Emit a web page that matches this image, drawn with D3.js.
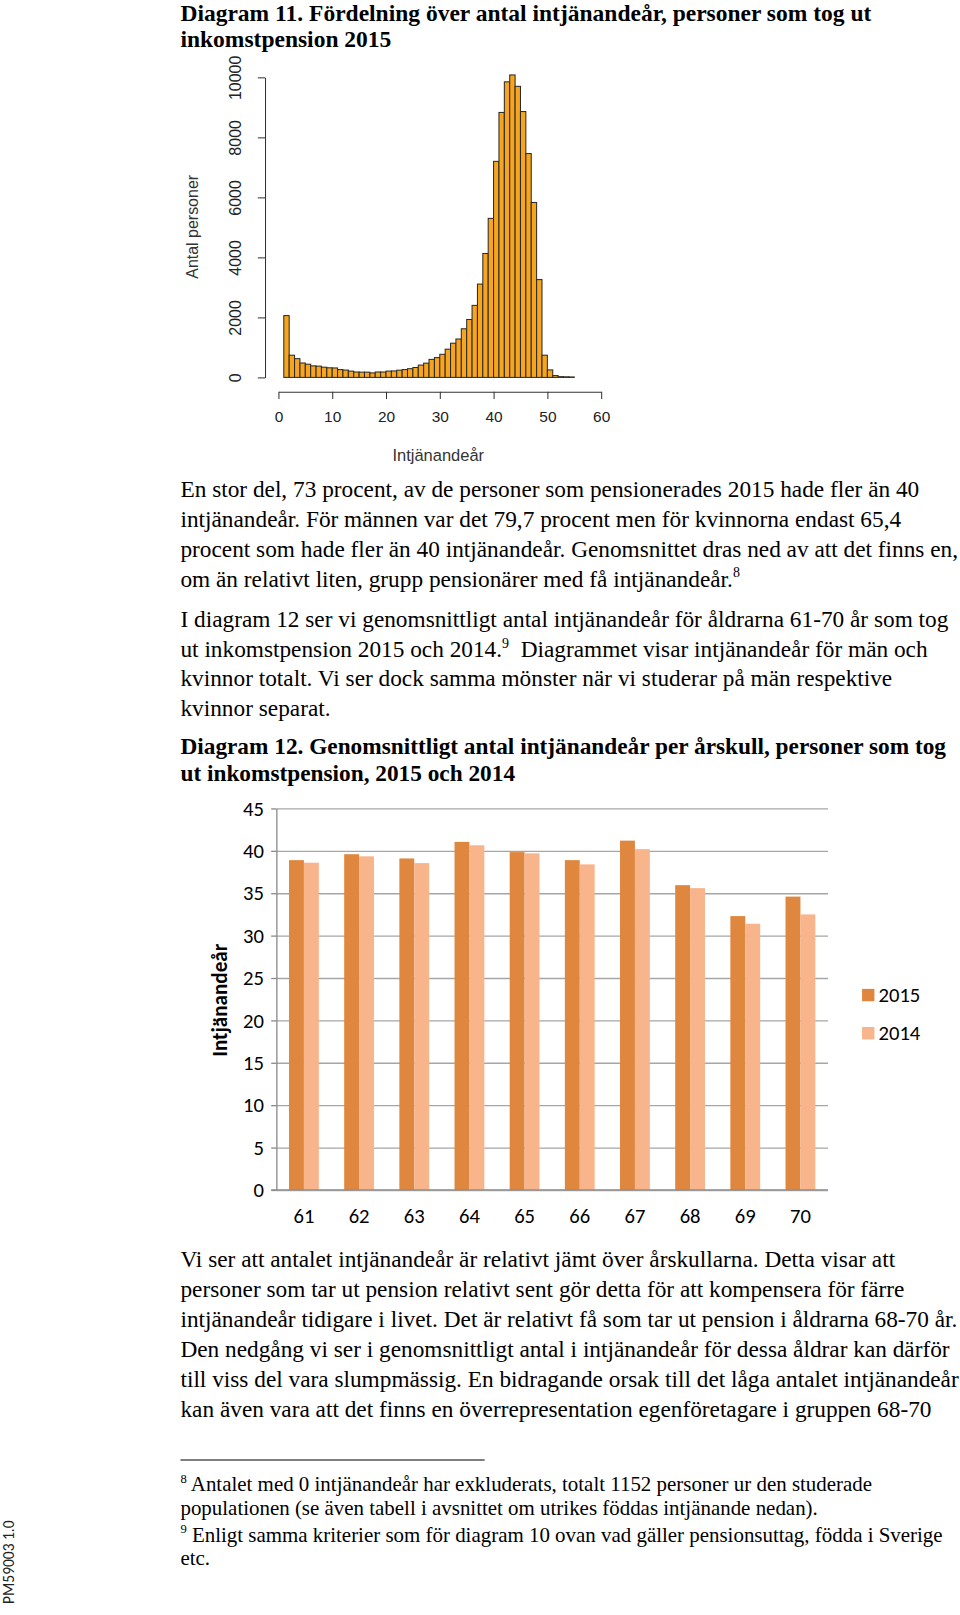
<!DOCTYPE html>
<html>
<head>
<meta charset="utf-8">
<script src="https://cdn.jsdelivr.net/npm/d3@7"></script>
<style>
  body { margin: 0; background: #fff; }
  svg { display: block; }
  .serif { font-family: "Liberation Serif", "Times New Roman", serif; fill: #000; }
  .rsans { font-family: "Liberation Sans", Arial, sans-serif; }
  .xl { font-family: Carlito, Lato, "Open Sans", sans-serif; }
</style>
</head>
<body>
<svg id="page" width="960" height="1615"></svg>
<script>
// ---- Diagram 11: histogram data (bin start, count) ----
const histBinStarts = [1, 2, 3, 4, 5, 6, 7, 8, 9, 10, 11, 12, 13, 14, 15, 16, 17, 18,
  19, 20, 21, 22, 23, 24, 25, 26, 27, 28, 29, 30, 31, 32, 33, 34, 35, 36, 37, 38, 39,
  40, 41, 42, 43, 44, 45, 46, 47, 48, 49, 50, 51, 52, 53, 54];
const histCounts = [2060, 740, 625, 480, 440, 385, 375, 340, 320, 315, 260, 245, 210,
  180, 175, 175, 150, 180, 180, 210, 215, 240, 260, 290, 330, 410, 475, 600, 660, 770,
  940, 1140, 1280, 1620, 1930, 2400, 3110, 4130, 5300, 7200, 8830, 9850, 10080, 9700,
  8860, 7460, 5830, 3260, 740, 250, 60, 25, 20, 15];
const histXTicks = [0, 10, 20, 30, 40, 50, 60];
const histYTicks = [0, 2000, 4000, 6000, 8000, 10000];

// ---- Diagram 12: grouped bars ----
const ages = ["61", "62", "63", "64", "65", "66", "67", "68", "69", "70"];
const series = ["2015", "2014"];
const values2015 = [38.9, 39.6, 39.1, 41.05, 39.85, 38.9, 41.2, 35.95, 32.3, 34.6];
const values2014 = [38.6, 39.35, 38.55, 40.65, 39.7, 38.4, 40.2, 35.6, 31.4, 32.5];
const barYTicks = [0, 5, 10, 15, 20, 25, 30, 35, 40, 45];

// ---- text ("|n|" = superscript) ----
const title11 = ["Diagram 11. Fördelning över antal intjänandeår, personer som tog ut",
  "inkomstpension 2015"];
const para1 = ["En stor del, 73 procent, av de personer som pensionerades 2015 hade fler än 40",
  "intjänandeår. För männen var det 79,7 procent men för kvinnorna endast 65,4",
  "procent som hade fler än 40 intjänandeår. Genomsnittet dras ned av att det finns en,",
  "om än relativt liten, grupp pensionärer med få intjänandeår.|8|"];
const para2 = ["I diagram 12 ser vi genomsnittligt antal intjänandeår för åldrarna 61-70 år som tog",
  "ut inkomstpension 2015 och 2014.|9|  Diagrammet visar intjänandeår för män och",
  "kvinnor totalt. Vi ser dock samma mönster när vi studerar på män respektive",
  "kvinnor separat."];
const title12 = ["Diagram 12. Genomsnittligt antal intjänandeår per årskull, personer som tog",
  "ut inkomstpension, 2015 och 2014"];
const para3 = ["Vi ser att antalet intjänandeår är relativt jämt över årskullarna. Detta visar att",
  "personer som tar ut pension relativt sent gör detta för att kompensera för färre",
  "intjänandeår tidigare i livet. Det är relativt få som tar ut pension i åldrarna 68-70 år.",
  "Den nedgång vi ser i genomsnittligt antal i intjänandeår för dessa åldrar kan därför",
  "till viss del vara slumpmässig. En bidragande orsak till det låga antalet intjänandeår",
  "kan även vara att det finns en överrepresentation egenföretagare i gruppen 68-70"];
const notes = ["|8| Antalet med 0 intjänandeår har exkluderats, totalt 1152 personer ur den studerade",
  "populationen (se även tabell i avsnittet om utrikes föddas intjänande nedan).",
  "|9| Enligt samma kriterier som för diagram 10 ovan vad gäller pensionsuttag, födda i Sverige",
  "etc."];

// layout was measured on a 931 px wide copy of the page
const svg = d3.select("#page");
const page = svg.append("g").attr("transform", "scale(" + (960 / 931) + ")");

function textBlock(lines, x, ys, size, bold) {
  const g = page.append("g").attr("class", "serif")
    .attr("font-size", size).attr("font-weight", bold ? "bold" : "normal");
  lines.forEach(function (line, i) {
    const t = g.append("text").attr("x", x).attr("y", ys[i])
      .attr("xml:space", "preserve");
    const shift = size * 0.4;
    let raised = false;
    line.split("|").forEach(function (part, k) {
      if (part === "") return;
      if (k % 2 === 1) {
        t.append("tspan").attr("font-size", size * 0.6).attr("dy", -shift).text(part);
        raised = true;
      } else {
        const s = t.append("tspan").text(part);
        if (raised) { s.attr("dy", shift); raised = false; }
      }
    });
  });
}

textBlock(title11, 175, [20, 46], 22.8, true);
textBlock(para1, 175, [482, 511, 540, 569], 22.6, false);
textBlock(para2, 175, [608, 637, 665, 694], 22.6, false);
textBlock(title12, 175, [731, 757], 22.6, true);
textBlock(para3, 175, [1229, 1258, 1287, 1316, 1345, 1374], 22.6, false);
textBlock(notes, 175, [1446, 1469, 1495, 1518], 20.3, false);

page.append("line").attr("x1", 175).attr("x2", 470).attr("y1", 1416).attr("y2", 1416)
  .attr("stroke", "#000").attr("stroke-width", 1);

page.append("text").attr("class", "xl").attr("font-size", 15).attr("fill", "#222")
  .attr("text-anchor", "middle")
  .attr("transform", "translate(14,1515) rotate(-90)")
  .text("PM59003 1.0");

// ---- histogram ----
const xh = d3.scaleLinear().domain([0, 60]).range([270, 583]);
const yh = d3.scaleLinear().domain([0, 10000]).range([366, 75]);

const hist = page.append("g");
hist.selectAll("rect")
  .data(histCounts)
  .enter()
  .append("rect")
  .attr("x", (d, i) => xh(histBinStarts[i]))
  .attr("y", (d) => yh(d))
  .attr("width", (d, i) => xh(histBinStarts[i] + 1) - xh(histBinStarts[i]))
  .attr("height", (d) => yh(0) - yh(d))
  .attr("fill", "#F7A51E")
  .attr("stroke", "#2a2a2a")
  .attr("stroke-width", 1);

const hx = hist.append("g")
  .attr("class", "rsans")
  .attr("transform", "translate(0,380)")
  .call(d3.axisBottom(xh).tickValues(histXTicks).tickSize(7).tickSizeOuter(0).tickPadding(12));
hx.selectAll("text").attr("font-size", 15).attr("fill", "#222");

const hy = hist.append("g")
  .attr("class", "rsans")
  .attr("transform", "translate(257,0)")
  .call(d3.axisLeft(yh).tickValues(histYTicks).tickSize(7).tickSizeOuter(0)
    .tickFormat(d3.format("d")));
hy.selectAll("text")
  .attr("font-size", 15.5).attr("fill", "#222")
  .attr("text-anchor", "middle")
  .attr("x", 0).attr("dy", 0).attr("y", -23)
  .attr("transform", "rotate(-90)");
hist.selectAll(".domain, .tick line").attr("stroke", "#333");

hist.append("text").attr("class", "rsans").attr("font-size", 16).attr("fill", "#333")
  .attr("text-anchor", "middle").attr("x", 425).attr("y", 447).text("Intjänandeår");
hist.append("text").attr("class", "rsans").attr("font-size", 15.5).attr("fill", "#333")
  .attr("text-anchor", "middle")
  .attr("transform", "translate(192,220) rotate(-90)")
  .text("Antal personer");

// ---- grouped bar chart ----
const x0 = d3.scaleBand().domain(ages).range([268, 803]);
const x1 = d3.scaleBand().domain(series).range([0, x0.bandwidth()]).paddingOuter(0.85);
const y2 = d3.scaleLinear().domain([0, 45]).range([1154, 784]);
const colors = { "2015": "#E0873F", "2014": "#F8B48B" };

const bc = page.append("g");
const grid = bc.append("g")
  .attr("transform", "translate(268,0)")
  .call(d3.axisLeft(y2).tickValues(barYTicks).tickSize(-535).tickFormat(""));
grid.select(".domain").remove();
grid.selectAll("line").attr("stroke", "#A6A6A6").attr("stroke-width", 1.3);

const ya = bc.append("g")
  .attr("class", "xl")
  .attr("transform", "translate(268,0)")
  .call(d3.axisLeft(y2).tickValues(barYTicks).tickSize(5).tickSizeOuter(0).tickPadding(7));
ya.selectAll("text").attr("font-size", 20).attr("fill", "#000");
ya.selectAll(".domain, .tick line").attr("stroke", "#8C8C8C").attr("stroke-width", 1.3);

const rows = ages.map((a, i) => ({ age: a, v: { "2015": values2015[i], "2014": values2014[i] } }));
bc.append("g").selectAll("g")
  .data(rows)
  .enter()
  .append("g")
  .attr("transform", (d) => "translate(" + x0(d.age) + ",0)")
  .selectAll("rect")
  .data((d) => series.map((s) => ({ s: s, v: d.v[s] })))
  .enter()
  .append("rect")
  .attr("x", (d) => x1(d.s))
  .attr("width", x1.bandwidth())
  .attr("y", (d) => y2(d.v))
  .attr("height", (d) => y2(0) - y2(d.v))
  .attr("fill", (d) => colors[d.s]);

bc.append("line").attr("x1", 263).attr("x2", 803).attr("y1", y2(0)).attr("y2", y2(0))
  .attr("stroke", "#8C8C8C").attr("stroke-width", 1.3);

const xa = bc.append("g")
  .attr("class", "xl")
  .attr("transform", "translate(0," + y2(0) + ")")
  .call(d3.axisBottom(x0).tickSize(0).tickPadding(18));
xa.select(".domain").remove();
xa.selectAll("text").attr("font-size", 20).attr("fill", "#000");

bc.append("text").attr("class", "xl").attr("font-size", 20.5).attr("font-weight", "bold")
  .attr("text-anchor", "middle")
  .attr("transform", "translate(220,970) rotate(-90)")
  .text("Intjänandeår");

const lg = bc.append("g").attr("class", "xl");
series.forEach(function (s, i) {
  lg.append("rect").attr("x", 836).attr("y", 959 + i * 37).attr("width", 12).attr("height", 12)
    .attr("fill", colors[s]);
  lg.append("text").attr("x", 852).attr("y", 972 + i * 37).attr("font-size", 20).text(s);
});
</script>
</body>
</html>
